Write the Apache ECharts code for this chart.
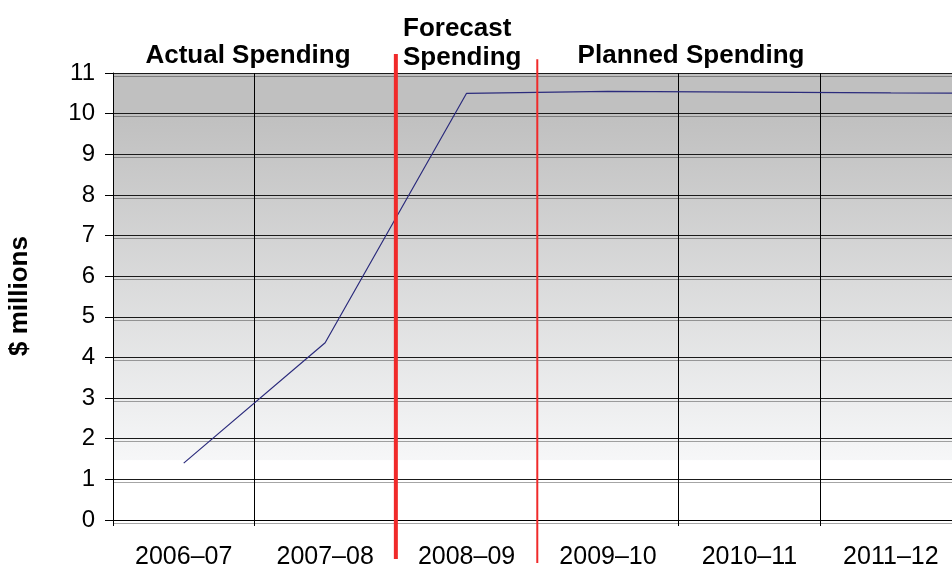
<!DOCTYPE html>
<html><head><meta charset="utf-8">
<script src="https://cdn.jsdelivr.net/npm/echarts@6/dist/echarts.min.js"></script>
<style>html,body{margin:0;padding:0;background:#fff}#c{width:952px;height:568px}</style>
</head><body><div id="c"></div>
<script>
const categories = ['2006–07', '2007–08', '2008–09', '2009–10', '2010–11', '2011–12', '2012–13'];
const spending = [1.4, 4.36, 10.5, 10.55, 10.53, 10.51, 10.5];
const yMin = 0, yMax = 11, yInterval = 1;
const phaseBoundaries = [2, 3];           // category boundaries where phases change
const phaseLabels = ['Actual Spending', 'Forecast\nSpending', 'Planned Spending'];
const yAxisTitle = '$ millions';

const FONT = '"Liberation Sans", Arial, sans-serif';
const chart = echarts.init(document.getElementById('c'), null, {renderer: 'canvas'});

const option = {
  animation: false,
  backgroundColor: '#fff',
  grid: {
    left: 113, width: 990, top: 73, height: 447, show: true, borderWidth: 0,
    outerBoundsMode: 'none', containLabel: false,
    backgroundColor: new echarts.graphic.LinearGradient(0, 0, 0, 1, [
      {offset: 0, color: '#c0c0c0'},
      {offset: 0.1, color: '#c0c0c0'},
      {offset: 0.866, color: '#f6f7f8'},
      {offset: 0.867, color: '#ffffff'},
      {offset: 1, color: '#ffffff'}
    ])
  },
  xAxis: [{
    type: 'category', data: categories, boundaryGap: true,
    axisLine: {show: true, lineStyle: {color: '#000', width: 1}},
    axisTick: {show: true, length: 6, lineStyle: {color: '#000'}},
    splitLine: {show: true, lineStyle: {color: '#000', width: 1}},
    axisLabel: {color: '#000', fontSize: 25, fontFamily: FONT, margin: 25, interval: 0}
  }, {
    type: 'value', min: 0, max: categories.length, show: false
  }],
  yAxis: {
    type: 'value', min: yMin, max: yMax, interval: yInterval,
    axisLine: {show: true, lineStyle: {color: '#000', width: 1}},
    axisTick: {show: true, length: 8, lineStyle: {color: '#000'}},
    splitLine: {show: true, lineStyle: {color: '#1a1a1a', width: 1,
      shadowColor: 'rgba(0,0,0,0.35)', shadowOffsetY: 3, shadowBlur: 0}},
    axisLabel: {color: '#000', fontSize: 24, fontFamily: FONT, margin: 18}
  },
  series: [{
    type: 'line', data: spending, symbol: 'none',
    lineStyle: {color: '#2b2b7c', width: 1.2}, z: 5
  }, {
    type: 'line', xAxisIndex: 1, clip: false, symbol: 'none', silent: true,
    data: [[phaseBoundaries[0], -0.96], [phaseBoundaries[0], 11.47]],
    lineStyle: {color: '#f02a2a', width: 4}, z: 6
  }, {
    type: 'line', xAxisIndex: 1, clip: false, symbol: 'none', silent: true,
    data: [[phaseBoundaries[1], -1.06], [phaseBoundaries[1], 11.34]],
    lineStyle: {color: '#f02a2a', width: 2}, z: 6
  }],
  graphic: [
    {type: 'text', z: 10, x: 248, y: 56, style: {text: phaseLabels[0], x: 0, y: 0,
      textAlign: 'center', textVerticalAlign: 'middle', font: 'bold 26px ' + FONT, fill: '#000'}},
    {type: 'text', z: 10, x: 403, y: 14, style: {text: phaseLabels[1], x: 0, y: 0,
      textAlign: 'left', textVerticalAlign: 'top', font: 'bold 26px ' + FONT, lineHeight: 29, fill: '#000'}},
    {type: 'text', z: 10, x: 691, y: 56, style: {text: phaseLabels[2], x: 0, y: 0,
      textAlign: 'center', textVerticalAlign: 'middle', font: 'bold 26px ' + FONT, fill: '#000'}},
    {type: 'text', z: 10, x: 20, y: 296, rotation: Math.PI / 2, style: {text: yAxisTitle, x: 0, y: 0,
      textAlign: 'center', textVerticalAlign: 'middle', font: 'bold 26px ' + FONT, fill: '#000'}}
  ]
};
chart.setOption(option);
</script></body></html>
